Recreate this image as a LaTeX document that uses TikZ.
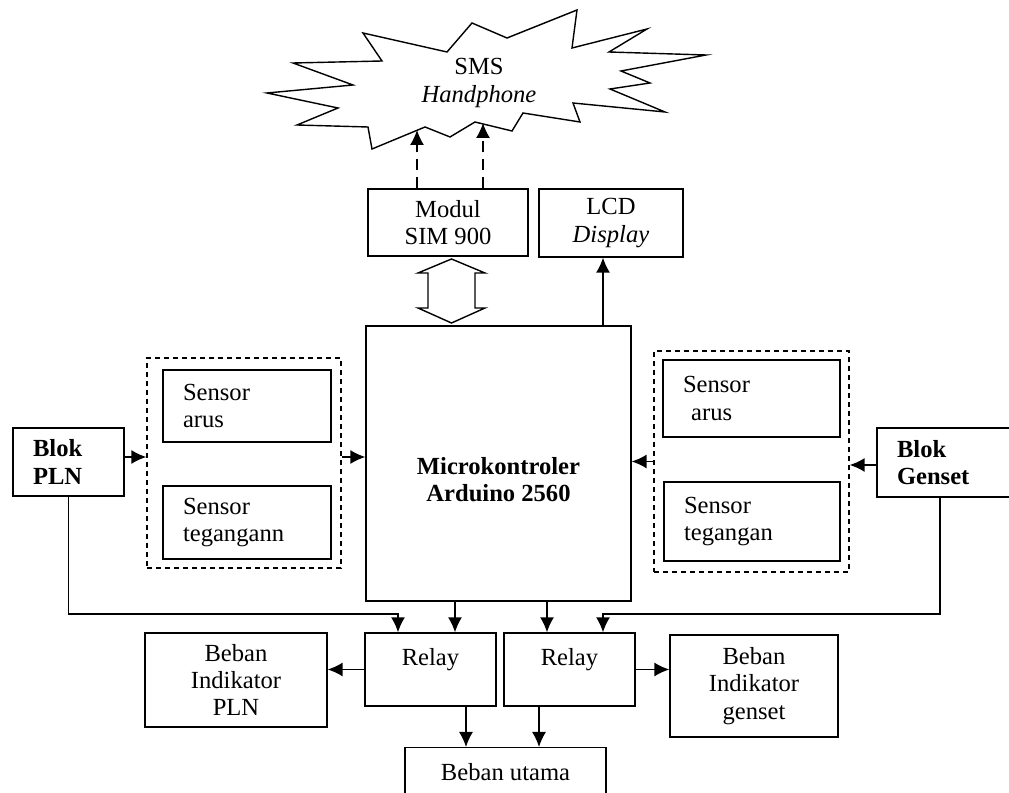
\documentclass[tikz,border=0pt]{standalone}
\usepackage{fontspec}
\setmainfont{Liberation Serif}
\usetikzlibrary{arrows.meta,calc}

\tikzset{
	blok/.style={draw, line width=0.8pt, align=center, inner sep=0pt},
	sensorbox/.style={draw, line width=0.8pt, align=left, inner xsep=0.4cm, inner ysep=0pt, text width=2.56cm},
	grup/.style={draw, line width=0.8pt, dash pattern=on 0.1cm off 0.08cm},
	link/.style={line width=0.8pt, ->},
	sinyal/.style={link, dash pattern=on 0.22cm off 0.14cm}
}

\begin{document}
\fontsize{14}{15.5}\selectfont
\begin{tikzpicture}[x=0.02cm, y=-0.02cm, >={Latex[length=0.3cm,width=0.28cm]}]
		\useasboundingbox (0,0) rectangle (1009,793);
		% awan SMS
		\draw[line width=0.8pt, line join=miter] (293,63) -- (382,61) -- (363,33) -- (447,52) -- (472,23)
			-- (507,38) -- (577,10) -- (572,48) -- (647,29) -- (609,52) -- (706,55) -- (621,71)
			-- (650,83) -- (610,89) -- (665,112) -- (573,103) -- (580,122) -- (523,113) -- (512,131)
			-- (475,122) -- (450,137) -- (425,127) -- (372,149) -- (368,127) -- (297,125) -- (338,108)
			-- (267,93) -- (353,85) -- cycle;
		\node[align=center] (sms) at (479,83) {SMS\\\textit{Handphone}};
		\coordinate (sms1) at (417,130);
		\coordinate (sms2) at (483,123);

		\node[blok, minimum width=3.2cm, minimum height=1.34cm] (sim) at (448,222.5) {Modul\\SIM 900};
		\node[blok, minimum width=2.88cm, minimum height=1.36cm] (lcd) at (611,223) {LCD\\\textit{Display}};
		\node[blok, minimum width=5.3cm, minimum height=5.5cm,
			label={[align=center, font=\bfseries, yshift=-0.33cm]center:Microkontroler\\Arduino 2560}] (micro) at (498.5,463.5) {};

		% sisi PLN
		\node[grup, minimum width=3.88cm, minimum height=4.2cm] (grpL) at (244,463) {};
		\node[sensorbox, minimum height=1.44cm] (arusL) at (247,406) {Sensor\\arus};
		\node[sensorbox, minimum height=1.46cm] (teganL) at (247,522.5) {Sensor\\tegangann};
		\node[blok, align=left, text width=1.42cm, inner xsep=0.4cm, minimum height=1.36cm, font=\bfseries] (pln) at (68.5,462) {Blok\\PLN};

		% sisi genset
		\node[grup, minimum width=3.9cm, minimum height=4.42cm] (grpR) at (751.5,461.5) {};
		\node[sensorbox, text width=2.74cm, minimum height=1.54cm] (arusR) at (751.5,398.5) {Sensor\\\ arus};
		\node[sensorbox, text width=2.72cm, minimum height=1.58cm] (teganR) at (752,521.5) {Sensor\\tegangan};
		\node[blok, align=left, text width=2.06cm, inner xsep=0.4cm, minimum height=1.38cm, font=\bfseries] (genset) at (948.5,462.5) {Blok\\Genset};

		% relay dan beban
		\node[blok, minimum width=2.62cm, text height=0.46cm, text depth=0.6cm, inner ysep=0.2cm] (relayL) at (430.5,669.5) {Relay};
		\node[blok, minimum width=2.62cm, text height=0.46cm, text depth=0.6cm, inner ysep=0.2cm] (relayR) at (569.5,669.5) {Relay};
		\node[blok, minimum width=3.64cm, minimum height=1.88cm] (bebanPLN) at (236,680) {Beban\\Indikator\\PLN};
		\node[blok, minimum width=3.36cm, minimum height=2.04cm] (bebanGen) at (754,686) {Beban\\Indikator\\genset};
		\node[blok, minimum width=4.02cm, text height=0.46cm, text depth=0.6cm, inner ysep=0.2cm, anchor=north] (utama) at (505.5,747) {Beban utama};

		% panah dua arah SIM 900 - mikrokontroler
		\draw[line width=0.8pt] (451.5,259) -- (485,273) -- (475,273) -- (475,308) -- (485,308) -- (451.5,323)
			-- (418,308) -- (428,308) -- (428,273) -- (418,273) -- cycle;

		\draw[sinyal] (sim.north -| sms1) -- (sms1);
		\draw[sinyal] (sim.north -| sms2) -- (sms2);
		\draw[link] ([xshift=-0.16cm]lcd.south |- micro.north) -- ([xshift=-0.16cm]lcd.south);

		\draw[link] ([yshift=0.1cm]pln.east) -- ([yshift=0.1cm]pln.east -| grpL.west);
		\draw[link] ([yshift=0.12cm]grpL.east) -- ([yshift=0.12cm]grpL.east -| micro.west);
		\draw[link] ([yshift=-0.05cm]genset.west) -- ([yshift=-0.05cm]genset.west -| grpR.east);
		\draw[link] (grpR.west) -- (grpR.west -| micro.east);

		\coordinate (jPLN) at (398,614);
		\coordinate (jGen) at (603,614);
		\draw[link] (pln.south) |- (jPLN) -- (jPLN |- relayL.north);
		\draw[link] ([xshift=-0.17cm]genset.south) |- (jGen) -- (jGen |- relayR.north);
		\draw[link] ([xshift=0.49cm]relayL.north |- micro.south) -- ([xshift=0.49cm]relayL.north);
		\draw[link] ([xshift=-0.45cm]relayR.north |- micro.south) -- ([xshift=-0.45cm]relayR.north);

		\draw[link] (relayL.west) -- (relayL.west -| bebanPLN.east);
		\draw[link] (relayR.east) -- (relayR.east -| bebanGen.west);
		\draw[link] ([xshift=0.71cm]relayL.south) -- ([xshift=0.71cm]relayL.south |- utama.north);
		\draw[link] ([xshift=-0.61cm]relayR.south) -- ([xshift=-0.61cm]relayR.south |- utama.north);
\end{tikzpicture}
\end{document}
